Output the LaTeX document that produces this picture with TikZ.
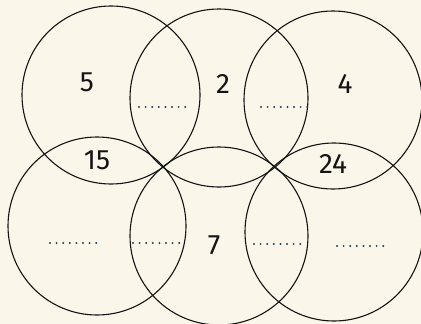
\documentclass[tikz,border=0pt]{standalone}
\usepackage{fontspec}
\setmainfont{Fira Sans}
\definecolor{bgcol}{HTML}{FAF6EA}
\definecolor{dotcol}{HTML}{24405C}
\definecolor{inkcol}{HTML}{141414}
\begin{document}
\begin{tikzpicture}[x=1pt,y=-1pt,
  ring/.style={circle, draw=inkcol, line width=1.1pt, minimum size=178pt, inner sep=0pt, outer sep=0pt},
  num/.style={font=\fontsize{28}{32}\selectfont, text=inkcol, inner sep=0pt},
  blank/.style={draw=dotcol, line width=2.2pt, line cap=round, dash pattern=on 0pt off 6.6pt}]
\fill[bgcol] (0,0) rectangle (421,324);
\useasboundingbox (0,0) rectangle (421,324);
\begin{scope}
\clip (0,0) rectangle (421,324);
\node[ring] (A) at (111,95) {};
\node[ring] (B) at (219,98) {};
\node[ring] (C) at (333,100) {};
\node[ring] (D) at (97,226) {};
\node[ring] (E) at (219,236) {};
\node[ring] (F) at (334,232) {};
\end{scope}
\node[num] (n5) at (87,82) {5};
\node[num] (n2) at (223,84) {2};
\node[num] (n4) at (345,84) {4};
\node[num] (n15) at (97,160) {15};
\node[num] (n24) at (333,164) {24};
\node[num] (n7) at (214,245) {7};
\coordinate (b1s) at (139,107); \coordinate (b1e) at (185.5,107);
\coordinate (b2s) at (261,107); \coordinate (b2e) at (307.5,107);
\coordinate (b3s) at (50,243);  \coordinate (b3e) at (96.5,243);
\coordinate (b4s) at (133,243); \coordinate (b4e) at (179.5,243);
\coordinate (b5s) at (254,244); \coordinate (b5e) at (300.5,244);
\coordinate (b6s) at (337,246); \coordinate (b6e) at (383.5,246);
\draw[blank] (b1s) -- (b1e);
\draw[blank] (b2s) -- (b2e);
\draw[blank] (b3s) -- (b3e);
\draw[blank] (b4s) -- (b4e);
\draw[blank] (b5s) -- (b5e);
\draw[blank] (b6s) -- (b6e);
\end{tikzpicture}
\end{document}
